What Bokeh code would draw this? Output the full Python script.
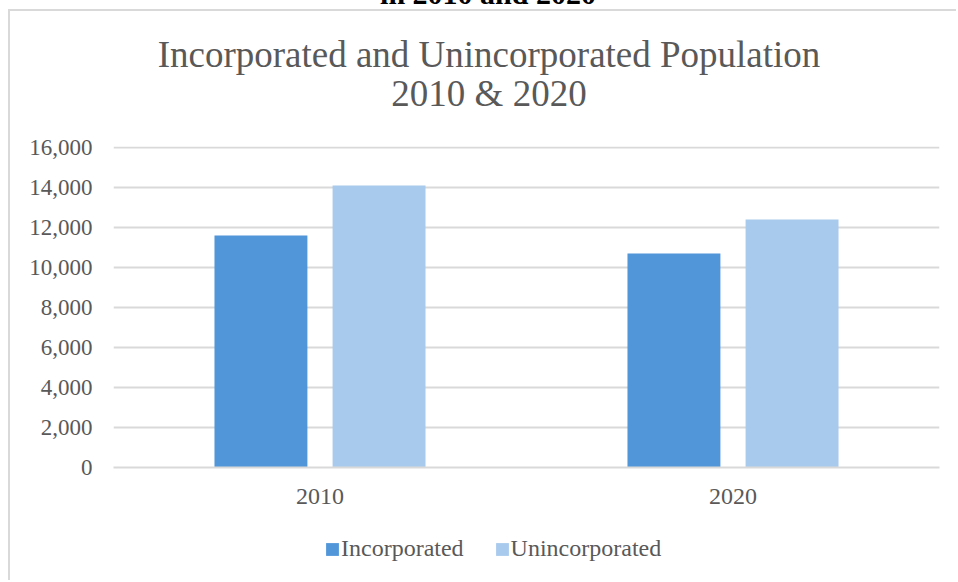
from bokeh.plotting import figure
from bokeh.models import (FactorRange, Range1d, NumeralTickFormatter, Legend, LegendItem,
                          Label, Div, FixedTicker, ColumnDataSource)
from bokeh.transform import dodge
from bokeh.layouts import column
from bokeh.embed import file_html
from bokeh.resources import INLINE

# ---- data ----
years = ["2010", "2020"]
incorporated = [11600, 10700]
unincorporated = [14100, 12400]
series_names = ["Incorporated", "Unincorporated"]
y_ticks = [0, 2000, 4000, 6000, 8000, 10000, 12000, 14000, 16000]
title_lines = ["Incorporated and Unincorporated Population", "2010 & 2020"]
cut_heading = "in 2010 and 2020"

FONT = "Liberation Serif"
GREY = "#595959"
GRID = "#D9D9D9"
C_INC = "#5096D9"
C_UNINC = "#A8CAEC"
W = 948


def bare(height, top_border=False):
    f = figure(width=W, height=height, output_backend="svg", toolbar_location=None,
               x_axis_type=None, y_axis_type=None, x_range=Range1d(0, 1), y_range=Range1d(0, 1),
               min_border=0, margin=(0, 0, 0, 8))
    st = {"border-left": "2px solid #D9D9D9"}
    if top_border:
        st["border-top"] = "2px solid #D9D9D9"
    f.styles = st
    f.outline_line_color = None
    f.background_fill_color = "white"
    f.border_fill_color = "white"
    return f


# ---- title block ----
tf = bare(118, top_border=True)
for txt, yy in zip(title_lines, [75, 36]):
    tf.add_layout(Label(x=375.5, y=yy, x_units="screen", y_units="screen", text=txt,
                        text_align="center", text_baseline="alphabetic", text_font=FONT,
                        text_font_size="37px", text_color=GREY))

# ---- main chart ----
src = ColumnDataSource(dict(year=years, inc=incorporated, uninc=unincorporated))
p = figure(x_range=FactorRange(factors=years), y_range=Range1d(0, 16050),
           width=W, height=391, output_backend="svg", toolbar_location=None,
           min_border_left=103, min_border_right=19, min_border_top=19, min_border_bottom=51,
           margin=(0, 0, 0, 8))
p.styles = {"border-left": "2px solid #D9D9D9"}
p.outline_line_color = None
p.background_fill_color = "white"
p.border_fill_color = "white"

r1 = p.vbar(x=dodge("year", -0.143, range=p.x_range), top="inc", width=0.225, source=src,
            fill_color=C_INC, line_color=None)
r2 = p.vbar(x=dodge("year", 0.143, range=p.x_range), top="uninc", width=0.225, source=src,
            fill_color=C_UNINC, line_color=None)

p.yaxis.ticker = FixedTicker(ticks=y_ticks)
p.yaxis.formatter = NumeralTickFormatter(format="0,0")
p.yaxis.axis_line_color = None
p.yaxis.major_tick_line_color = None
p.yaxis.minor_tick_line_color = None
p.yaxis.major_tick_in = 0
p.yaxis.major_tick_out = 0
p.yaxis.minor_tick_out = 0
p.yaxis.major_label_standoff = 21
p.yaxis.major_label_text_font = FONT
p.yaxis.major_label_text_font_size = "23px"
p.yaxis.major_label_text_color = GREY

p.xaxis.axis_line_color = GRID
p.xaxis.axis_line_width = 2
p.xaxis.major_tick_line_color = None
p.xaxis.minor_tick_line_color = None
p.xaxis.major_tick_in = 0
p.xaxis.major_tick_out = 0
p.xaxis.major_label_standoff = 21
p.xaxis.major_label_text_font = FONT
p.xaxis.major_label_text_font_size = "24px"
p.xaxis.major_label_text_color = GREY

p.xgrid.grid_line_color = None
p.ygrid.ticker = FixedTicker(ticks=y_ticks)
p.ygrid.grid_line_color = GRID
p.ygrid.grid_line_width = 2

# ---- legend block (zero-size proxy glyphs carry the swatch colours) ----
lf = bare(62)
proxy = ColumnDataSource(dict(x=[0], top=[0]))
l1 = lf.vbar(x="x", top="top", width=0, source=proxy, fill_color=C_INC, line_color=None)
l2 = lf.vbar(x="x", top="top", width=0, source=proxy, fill_color=C_UNINC, line_color=None)
legend = Legend(items=[LegendItem(label=series_names[0], renderers=[l1]),
                       LegendItem(label=series_names[1], renderers=[l2])],
                orientation="horizontal", location=(211, 18),
                border_line_color=None, background_fill_alpha=0, padding=0, margin=0,
                spacing=30, glyph_width=16, glyph_height=16, label_standoff=1,
                label_text_font=FONT, label_text_font_size="24px", label_text_color=GREY)
lf.add_layout(legend)

head = Div(text=cut_heading, width=900, height=30, margin=(-21, 0, 0, 38),
           styles={"font-family": FONT, "font-weight": "bold", "font-size": "30px",
                   "line-height": "30px", "text-align": "center", "color": "black",
                   "overflow": "visible"})

layout = column(head, tf, p, lf, spacing=0)
open("out.html", "w").write(file_html(layout, INLINE))
